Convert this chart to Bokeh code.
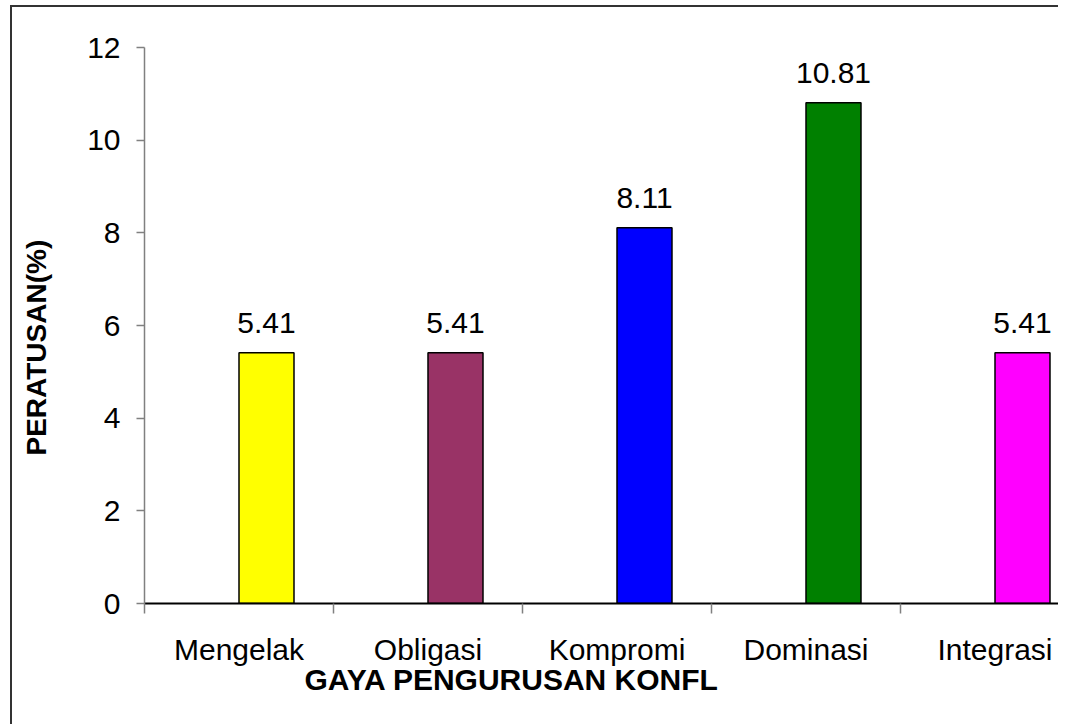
from bokeh.plotting import figure
from bokeh.models import Range1d, FixedTicker, Title
from bokeh.core.properties import value
from bokeh.embed import file_html
from bokeh.resources import INLINE

categories = ["Mengelak", "Obligasi", "Kompromi", "Dominasi", "Integrasi"]
values = [5.41, 5.41, 8.11, 10.81, 5.41]
colors = ["#FFFF00", "#993366", "#0000FF", "#008000", "#FF00FF"]
y_ticks = [0, 2, 4, 6, 8, 10, 12]
x_title = "GAYA PENGURUSAN KONFL"
y_title = "PERATUSAN(%)"

FONT = "Liberation Sans"
bar_w = 0.291
xs = [i + 0.5 + bar_w / 2 for i in range(len(categories))]
labels = ["%.2f" % v for v in values]

p = figure(width=1084, height=724, output_backend="svg", toolbar_location=None,
           x_range=Range1d(0, 4.836), y_range=Range1d(0, 12),
           min_border_left=170, min_border_right=0, min_border_top=47, min_border_bottom=121)
# chart-area border (left and top edges visible; the rest is cropped away)
p.styles = {
    "margin-left": "-26px",
    "background-color": "white",
    "background-image": "linear-gradient(#333, #333), linear-gradient(#333, #333)",
    "background-size": "2px 100%, 100% 2px",
    "background-position": "36px 5px, 36px 5px",
    "background-repeat": "no-repeat",
}
p.border_fill_color = None
p.outline_line_color = None
p.xgrid.visible = False
p.ygrid.visible = False

p.vbar(x=xs, width=bar_w, top=values, bottom=0, fill_color=colors,
       line_color="black", line_width=1.5)
p.text(x=xs, y=values, text=labels, text_align="center", text_baseline="alphabetic",
       y_offset=-30, text_font=value(FONT), text_font_size="30px", text_color="black")

# y axis
ya = p.yaxis[0]
ya.ticker = FixedTicker(ticks=y_ticks)
ya.major_tick_out = 8
ya.major_tick_in = 0
ya.minor_tick_out = 0
ya.minor_tick_in = 0
ya.axis_line_color = "#808080"
ya.axis_line_width = 1.5
ya.major_tick_line_color = "#808080"
ya.major_tick_line_width = 1.5
ya.major_label_standoff = 16
ya.major_label_text_font = FONT
ya.major_label_text_font_size = "30px"
ya.major_label_text_color = "black"

# x axis
xa = p.xaxis[0]
centers = [i + 0.5 for i in range(len(categories))]
xa.ticker = FixedTicker(ticks=centers, minor_ticks=list(range(len(categories))))
xa.major_label_overrides = {c: n for c, n in zip(centers, categories)}
xa.major_tick_out = 0
xa.major_tick_in = 0
xa.minor_tick_out = 10
xa.minor_tick_in = 0
xa.minor_tick_line_color = "#808080"
xa.minor_tick_line_width = 1.5
xa.axis_line_color = "black"
xa.axis_line_width = 2
xa.major_label_standoff = 19
xa.major_label_text_font = FONT
xa.major_label_text_font_size = "30px"
xa.major_label_text_color = "black"

p.add_layout(Title(text=x_title, align="left", offset=160, vertical_align="top", standoff=-11,
                   text_font=FONT, text_font_size="30px", text_font_style="bold",
                   text_color="black"), "below")
p.add_layout(Title(text=y_title, align="left", offset=148, standoff=65, text_font=FONT,
                   text_font_size="28px", text_font_style="bold", text_color="black"), "left")

open("out.html", "w").write(file_html(p, INLINE))
